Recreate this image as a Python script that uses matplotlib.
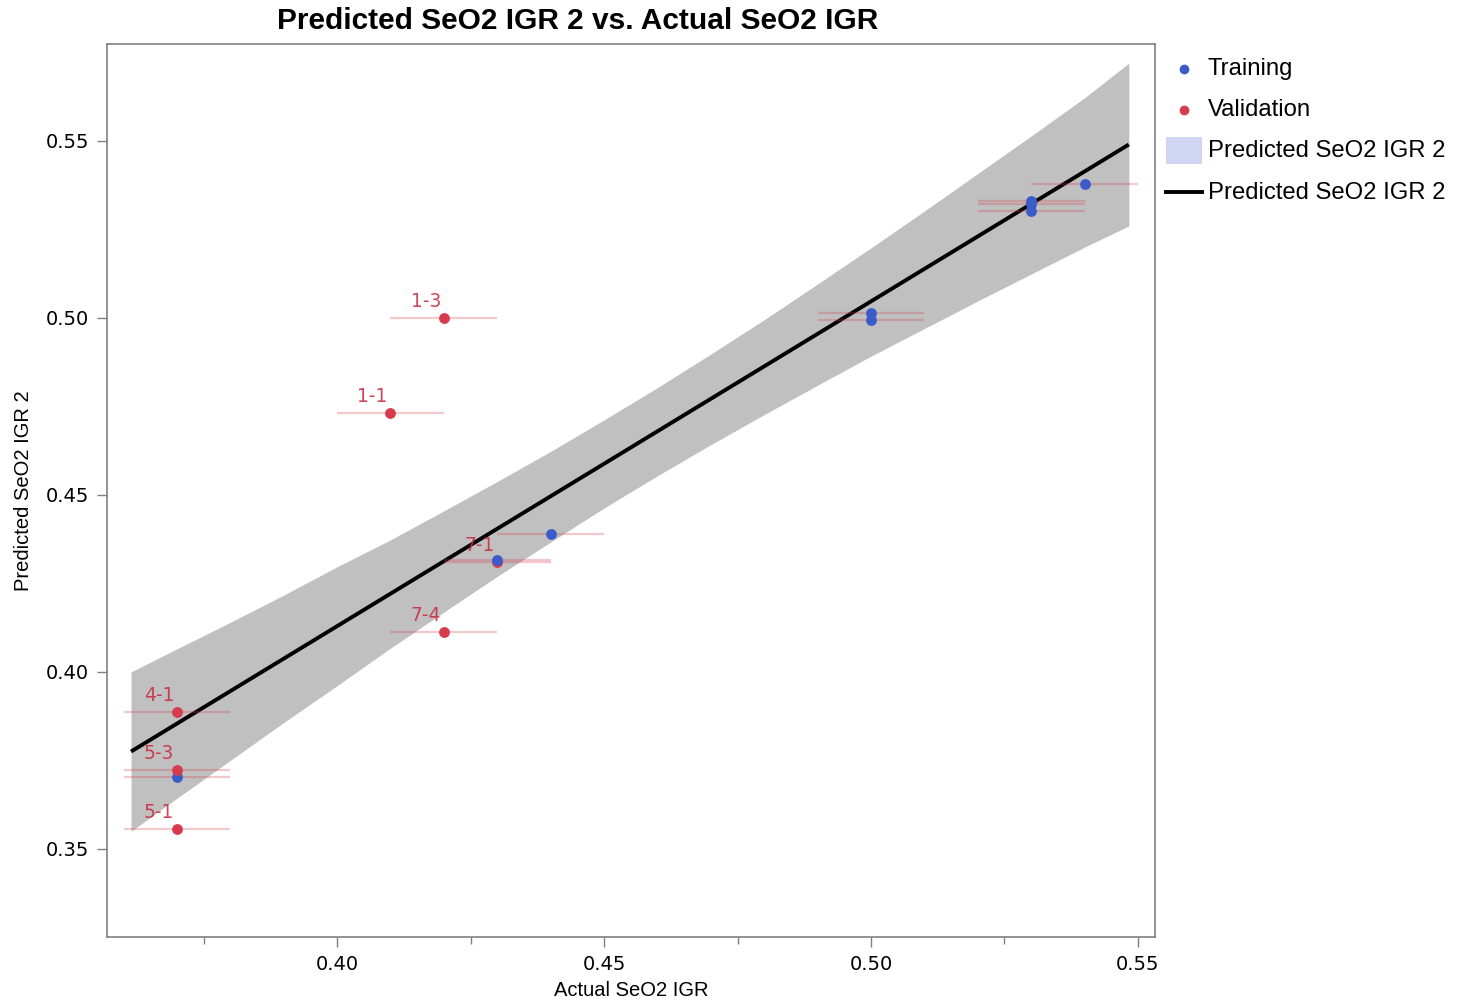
import matplotlib
matplotlib.use("Agg")
import matplotlib.pyplot as plt
from matplotlib.lines import Line2D
from matplotlib.patches import Rectangle
from matplotlib.ticker import MultipleLocator, FormatStrFormatter

# ---- data (row order) ----
actual    = [0.41, 0.42, 0.43, 0.43, 0.44, 0.42, 0.37, 0.37, 0.37, 0.37, 0.50, 0.50, 0.53, 0.53, 0.53, 0.54]
predicted = [0.4732, 0.5000, 0.4311, 0.4316, 0.4390, 0.4113, 0.3886, 0.3704, 0.3722, 0.3556,
             0.5013, 0.4993, 0.5330, 0.5322, 0.5302, 0.5379]
group     = ["V", "V", "V", "T", "T", "V", "V", "T", "V", "V", "T", "T", "T", "T", "T", "T"]
labels    = ["1-1", "1-3", "7-1", "", "", "7-4", "4-1", "", "5-3", "5-1", "", "", "", "", "", ""]
x_err     = [0.01] * len(actual)

# fitted line and confidence band
fit_x  = [0.3614, 0.5483]
fit_y  = [0.3775, 0.5490]
band_x  = [0.3614, 0.37, 0.38, 0.39, 0.40, 0.41, 0.42, 0.43, 0.44, 0.45, 0.46,
           0.47, 0.48, 0.49, 0.50, 0.51, 0.52, 0.53, 0.54, 0.5483]
band_lo = [0.3550, 0.3643, 0.3750, 0.3857, 0.3961, 0.4067, 0.4169, 0.4270, 0.4367, 0.4463, 0.4554,
           0.4642, 0.4727, 0.4810, 0.4892, 0.4970, 0.5048, 0.5124, 0.5200, 0.5260]
band_hi = [0.4000, 0.4065, 0.4140, 0.4217, 0.4297, 0.4373, 0.4455, 0.4538, 0.4623, 0.4712, 0.4803,
           0.4898, 0.4995, 0.5096, 0.5198, 0.5302, 0.5408, 0.5514, 0.5622, 0.5720]

legend_labels = ["Training", "Validation", "Predicted SeO2 IGR 2", "Predicted SeO2 IGR 2"]

BLUE = "#3a5bc8"
RED = "#d63b4e"
colors = {"T": BLUE, "V": RED}

W, H = 1478, 1002
fig = plt.figure(figsize=(W / 100, H / 100), dpi=100)
ax = fig.add_axes([107 / W, 1 - 937 / H, (1155 - 107) / W, (937 - 44) / H])

ax.fill_between(band_x, band_lo, band_hi, color="#c0c0c0", lw=0, zorder=1)
ax.plot(fit_x, fit_y, color="black", lw=2.8, zorder=2, solid_capstyle="butt")

for xi, yi, e in zip(actual, predicted, x_err):
    ax.plot([xi - e, xi + e], [yi, yi], color=RED, alpha=0.28, lw=1.6, zorder=3,
            solid_capstyle="butt")

for k, (xi, yi, g) in enumerate(zip(actual, predicted, group)):
    ax.plot([xi], [yi], "o", color=colors[g], ms=7.8, mec="none", zorder=4 + k * 0.01)

for xi, yi, lab in zip(actual, predicted, labels):
    if lab:
        ax.annotate(lab, (xi, yi), xytext=(-13, 5), textcoords="offset points",
                    ha="center", va="bottom", color="#c82c42", alpha=0.88,
                    fontsize=13.5, family="DejaVu Sans", zorder=5)

ax.set_xlim(0.3569, 0.5532)
ax.set_ylim(0.3251, 0.5774)
ax.xaxis.set_major_locator(MultipleLocator(0.05))
ax.xaxis.set_minor_locator(MultipleLocator(0.025))
ax.yaxis.set_major_locator(MultipleLocator(0.05))
ax.xaxis.set_major_formatter(FormatStrFormatter("%.2f"))
ax.yaxis.set_major_formatter(FormatStrFormatter("%.2f"))

for s in ax.spines.values():
    s.set_color("#808080")
    s.set_linewidth(1.2)
ax.tick_params(axis="both", which="major", direction="out", length=7, width=1,
               color="#808080", pad=6)
ax.tick_params(axis="x", which="minor", direction="out", length=5, width=1, color="#808080")
for t in ax.get_xticklabels() + ax.get_yticklabels():
    t.set_fontfamily("DejaVu Sans")
    t.set_fontsize(14)

ax.set_xlabel("Actual SeO2 IGR", fontsize=14.5, family="Liberation Sans", labelpad=5)
ax.set_ylabel("Predicted SeO2 IGR 2", fontsize=14.5, family="Liberation Sans", labelpad=9)

fig.text(578 / W, 1 - 21 / H, "Predicted SeO2 IGR 2 vs. Actual SeO2 IGR", ha="center",
         va="center", fontsize=21.5, fontweight="bold", family="Liberation Sans")

# ---- legend (manual) ----
rows_y = [69, 110, 151, 193]
text_x = 1208
fig.add_artist(Line2D([1184 / W], [1 - rows_y[0] / H], marker="o", color=BLUE, ms=7,
                      mec="none", transform=fig.transFigure))
fig.add_artist(Line2D([1184 / W], [1 - rows_y[1] / H], marker="o", color=RED, ms=7,
                      mec="none", transform=fig.transFigure))
fig.add_artist(Rectangle((1166 / W, 1 - 164 / H), 36 / W, 27 / H, color="#d0d5f2", lw=0,
                         transform=fig.transFigure))
fig.add_artist(Line2D([1166 / W, 1202 / W], [1 - 192 / H] * 2, color="black", lw=2.8,
                      transform=fig.transFigure))
for yy, lab in zip(rows_y, legend_labels):
    fig.text(text_x / W, 1 - yy / H, lab, ha="left", va="center", fontsize=17.2,
             family="Liberation Sans")

fig.savefig("out.png", dpi=100)
